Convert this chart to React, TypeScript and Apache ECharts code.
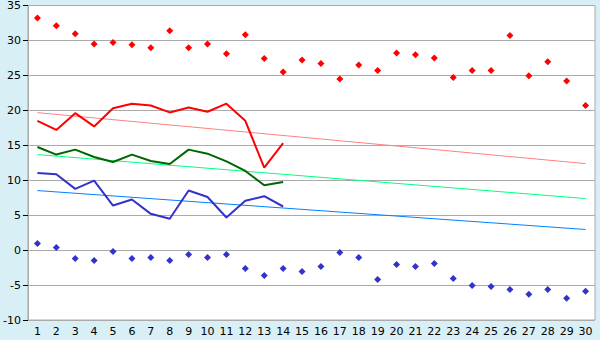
import React, { useEffect, useRef } from "react";
import * as echarts from "echarts";

const days = Array.from({ length: 30 }, (_, i) => String(i + 1));

const maxDots = [33.2, 32.1, 30.95, 29.5, 29.7, 29.4, 28.95, 31.4, 28.95, 29.5, 28.1, 30.8, 27.4, 25.5, 27.2, 26.7, 24.5, 26.5, 25.7, 28.2, 27.95, 27.5, 24.7, 25.7, 25.7, 30.7, 24.95, 26.95, 24.2, 20.7];
const minDots = [0.95, 0.38, -1.19, -1.48, -0.19, -1.19, -1.05, -1.48, -0.62, -1.05, -0.62, -2.62, -3.62, -2.62, -3.05, -2.33, -0.33, -1.05, -4.19, -2.05, -2.33, -1.9, -4.05, -5.05, -5.19, -5.62, -6.33, -5.62, -6.9, -5.9];

const redLine = [18.5, 17.2, 19.6, 17.7, 20.3, 20.95, 20.7, 19.7, 20.4, 19.8, 20.95, 18.5, 11.8, 15.3];
const greenLine = [14.76, 13.67, 14.38, 13.33, 12.6, 13.67, 12.76, 12.33, 14.38, 13.8, 12.7, 11.33, 9.29, 9.76];
const blueLine = [11.05, 10.86, 8.76, 9.95, 6.38, 7.24, 5.19, 4.48, 8.52, 7.6, 4.67, 7.05, 7.71, 6.24];

const redTrend = [19.67, 12.38];
const greenTrend = [13.67, 7.38];
const blueTrend = [8.52, 2.95];

const yTicks = { min: -10, max: 35, interval: 5 };

export default function App() {
  const ref = useRef<HTMLDivElement>(null);
  useEffect(() => {
    if (!ref.current) return;
    const chart = echarts.init(ref.current, undefined, { renderer: "svg" });
    const trend = (vals: number[], color: string) => ({
      type: "line",
      data: [[0, vals[0]], [days.length - 1, vals[1]]],
      symbol: "none",
      lineStyle: { color, width: 1 },
      z: 2,
    });
    const thick = (vals: number[], color: string) => ({
      type: "line",
      data: vals,
      symbol: "none",
      lineStyle: { color, width: 2 },
      z: 3,
    });
    const dots = (vals: number[], color: string) => ({
      type: "scatter",
      data: vals,
      symbol: "diamond",
      symbolSize: 7,
      itemStyle: { color, opacity: 1 },
      z: 4,
    });
    chart.setOption({
      animation: false,
      backgroundColor: "#d9eff6",
      grid: {
        left: 27,
        right: 5,
        top: 5,
        bottom: 20,
        show: true,
        backgroundColor: "#ffffff",
        borderColor: "#aaaaaa",
        borderWidth: 1,
      },
      xAxis: {
        type: "category",
        data: days,
        boundaryGap: true,
        axisLine: { lineStyle: { color: "#aaaaaa" } },
        axisTick: { alignWithLabel: true, length: 5, lineStyle: { color: "#000000" } },
        axisLabel: { color: "#000", fontFamily: "DejaVu Sans", fontSize: 11, margin: 6, interval: 0 },
        splitLine: { show: false },
      },
      yAxis: {
        type: "value",
        min: yTicks.min,
        max: yTicks.max,
        interval: yTicks.interval,
        axisLine: { show: true, lineStyle: { color: "#aaaaaa" } },
        axisTick: { show: true, length: 5, lineStyle: { color: "#000000" } },
        axisLabel: { color: "#000", fontFamily: "DejaVu Sans", fontSize: 11, margin: 7 },
        splitLine: { lineStyle: { color: "#aaaaaa", width: 1 } },
      },
      series: [
        trend(redTrend, "#ff8080"),
        trend(greenTrend, "#00ff80"),
        trend(blueTrend, "#0080ff"),
        thick(redLine, "#ff0000"),
        thick(greenLine, "#006600"),
        thick(blueLine, "#3333cc"),
        dots(maxDots, "#ff0000"),
        dots(minDots, "#3333cc"),
      ],
    });
    return () => chart.dispose();
  }, []);
  return <div ref={ref} style={{ width: 600, height: 340, position: "absolute", left: 0, top: 0 }} />;
}
